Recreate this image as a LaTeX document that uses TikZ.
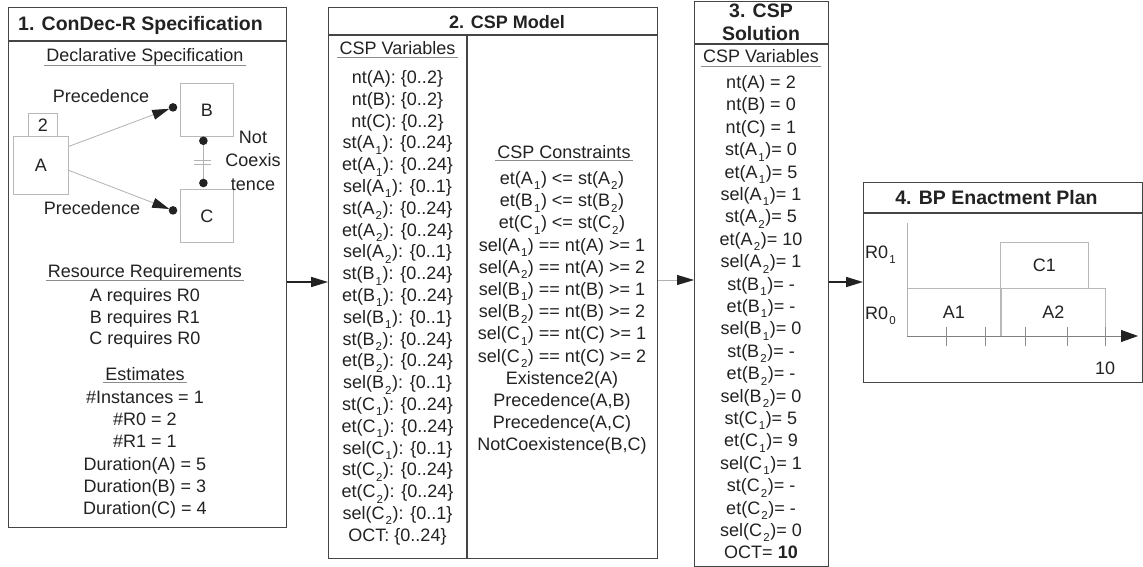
\documentclass[tikz,border=0pt]{standalone}
\usepackage{fontspec}
\setmainfont{Liberation Sans}
\usetikzlibrary{arrows.meta,calc}

\definecolor{ink}{HTML}{222222}
\definecolor{frame}{HTML}{454545}
% lowered index digit, as in st(A_1)
\newcommand{\ix}[1]{\kern0.06em\raisebox{-0.3em}{\fontsize{11.5}{12}\selectfont #1}\kern0.03em}

\begin{document}
\begin{tikzpicture}[x=1pt,y=-1pt,
  txt/.style={font=\fontsize{18}{21}\selectfont, text=ink, inner sep=0pt, anchor=base},
  ttl/.style={font=\fontsize{19.5}{23}\selectfont\bfseries, text=ink, inner sep=0pt, anchor=base},
  hdr/.style={txt, inner xsep=2pt},
  uline/.style={draw=black!45, line width=0.8pt},
  panel/.style={draw=frame, line width=1.2pt, anchor=north west, inner sep=0pt},
  rule/.style={draw=frame, line width=1.2pt},
  sbox/.style={draw=black!28, line width=0.8pt, anchor=north west, inner sep=0pt,
    font=\fontsize{18}{21}\selectfont, text=ink},
  link/.style={draw=black!30, line width=0.8pt},
  tipk/.style={-{Triangle[length=17pt,width=10pt,color=ink]}},
  flow/.style={draw=ink, line width=1.6pt, -{Triangle[length=17pt,width=10pt]}},
  dot/.style={fill=ink},
]
\fill[white] (0,0) rectangle (1143,567);
\useasboundingbox (0,0) rectangle (1143,567);

% ---------------- panel 1: specification ----------------
\node[panel, minimum width=278pt, minimum height=520pt] (p1) at (8,7) {};
\draw[rule] ($(p1.north west)+(0,34)$) -- ($(p1.north east)+(0,34)$);
\node[ttl] (t1) at (140.5,31) {1. ConDec-R Specification};

\node[hdr] (h1) at (145,62) {Declarative Specification};
\draw[uline] ([yshift=-3pt]h1.base west) -- ([yshift=-3pt]h1.base east);

\node[sbox, minimum width=29pt, minimum height=23pt] (n2) at (28,113) {2};
\node[sbox, minimum width=55pt, minimum height=58pt] (A) at (13,136) {A};
\node[sbox, minimum width=53pt, minimum height=53pt] (B) at (180,83) {B};
\node[sbox, minimum width=53pt, minimum height=53pt] (C) at (180,189) {C};

\node[txt] (pr1) at (101,102.5) {Precedence};
\node[txt] (pr2) at (92,214.5) {Precedence};
\node[txt] (nc1) at (253,143.5) {Not};
\node[txt] (nc2) at (253,167) {Coexis};
\node[txt] (nc3) at (253,190.5) {tence};

\coordinate (a1) at ([yshift=19pt]A.east);
\coordinate (a2) at ([yshift=-5pt]A.east);
\coordinate (dB) at ([xshift=-7pt,yshift=2.5pt]B.west);
\coordinate (dC) at ([xshift=-7pt,yshift=5.5pt]C.west);
\coordinate (dB2) at ([xshift=-3.5pt,yshift=-4pt]B.south);
\coordinate (dC2) at ([xshift=-3.5pt,yshift=6pt]C.north);

\draw[link, tipk, shorten >=4pt] (a1) -- (dB);
\draw[link, tipk, shorten >=4pt] (a2) -- (dC);
\draw[link] (dB2) -- (dC2);
\coordinate (mid) at ($(dB2)!0.5!(dC2)$);
\draw[link] ($(mid)+(-9,-2)$) -- ++(17,0);
\draw[link] ($(mid)+(-9,2)$) -- ++(17,0);
\foreach \d in {dB,dC,dB2,dC2} \fill[dot] (\d) circle (4.3pt);

\node[hdr] (h2) at (145,277) {Resource Requirements};
\draw[uline] ([yshift=-3pt]h2.base west) -- ([yshift=-3pt]h2.base east);
\node[txt] (r1) at (145,301.5) {A requires R0};
\node[txt] (r2) at (145,323.5) {B requires R1};
\node[txt] (r3) at (145,344.5) {C requires R0};

\node[hdr] (h3) at (145,380) {Estimates};
\draw[uline] ([yshift=-2.5pt]h3.base west) -- ([yshift=-2.5pt]h3.base east);
\foreach \t [count=\i from 0] in {\#Instances = 1, \#R0 = 2, \#R1 = 1,
    Duration(A) = 5, Duration(B) = 3, Duration(C) = 4}
  \node[txt] (e\i) at (145,{403.5+22.2*\i}) {\t};

% ---------------- panel 2: CSP model ----------------
\node[panel, minimum width=329pt, minimum height=551pt] (p2) at (328,7) {};
\draw[rule] ($(p2.north west)+(0,28)$) -- ($(p2.north east)+(0,28)$);
\draw[rule] ($(p2.north west)+(139,28)$) -- ($(p2.south west)+(139,0)$);
\node[ttl, font=\fontsize{18}{22}\selectfont\bfseries] (t2) at (507,28.5) {2. CSP Model};

\node[hdr] (h4) at (397.5,55) {CSP Variables};
\draw[uline] ([yshift=-2.5pt]h4.base west) -- ([yshift=-2.5pt]h4.base east);
\foreach \t [count=\i from 0] in {
    nt(A): \{0..2\}, nt(B): \{0..2\}, nt(C): \{0..2\},
    st(A\ix{1}): \{0..24\}, et(A\ix{1}): \{0..24\}, sel(A\ix{1}): \{0..1\},
    st(A\ix{2}): \{0..24\}, et(A\ix{2}): \{0..24\}, sel(A\ix{2}): \{0..1\},
    st(B\ix{1}): \{0..24\}, et(B\ix{1}): \{0..24\}, sel(B\ix{1}): \{0..1\},
    st(B\ix{2}): \{0..24\}, et(B\ix{2}): \{0..24\}, sel(B\ix{2}): \{0..1\},
    st(C\ix{1}): \{0..24\}, et(C\ix{1}): \{0..24\}, sel(C\ix{1}): \{0..1\},
    st(C\ix{2}): \{0..24\}, et(C\ix{2}): \{0..24\}, sel(C\ix{2}): \{0..1\},
    OCT: \{0..24\}}
  \node[txt] (v\i) at (397.5,{83.5+21.8*\i}) {\t};

\node[hdr] (h5) at (564,158) {CSP Constraints};
\draw[uline] ([yshift=-2.5pt]h5.base west) -- ([yshift=-2.5pt]h5.base east);
\foreach \t [count=\i from 0] in {
    et(A\ix{1}) <= st(A\ix{2}), et(B\ix{1}) <= st(B\ix{2}), et(C\ix{1}) <= st(C\ix{2}),
    sel(A\ix{1}) == nt(A) >= 1, sel(A\ix{2}) == nt(A) >= 2,
    sel(B\ix{1}) == nt(B) >= 1, sel(B\ix{2}) == nt(B) >= 2,
    sel(C\ix{1}) == nt(C) >= 1, sel(C\ix{2}) == nt(C) >= 2,
    Existence2(A), {Precedence(A,B)}, {Precedence(A,C)}, {NotCoexistence(B,C)}}
  \node[txt] (k\i) at (562,{184.5+22.2*\i}) {\t};

% ---------------- panel 3: CSP solution ----------------
\node[panel, minimum width=134pt, minimum height=565pt] (p3) at (694,1) {};
\draw[rule] ($(p3.north west)+(0,43)$) -- ($(p3.north east)+(0,43)$);
\node[ttl] (t3a) at (761,18) {3. CSP};
\node[ttl] (t3b) at (761,41) {Solution};
\node[hdr] (h6) at (761,63) {CSP Variables};
\draw[uline] ([yshift=-3pt]h6.base west) -- ([yshift=-3pt]h6.base east);
\foreach \t [count=\i from 0] in {
    nt(A) = 2, nt(B) = 0, nt(C) = 1,
    st(A\ix{1})= 0, et(A\ix{1})= 5, sel(A\ix{1})= 1,
    st(A\ix{2})= 5, et(A\ix{2})= 10, sel(A\ix{2})= 1,
    st(B\ix{1})= -, et(B\ix{1})= -, sel(B\ix{1})= 0,
    st(B\ix{2})= -, et(B\ix{2})= -, sel(B\ix{2})= 0,
    st(C\ix{1})= 5, et(C\ix{1})= 9, sel(C\ix{1})= 1,
    st(C\ix{2})= -, et(C\ix{2})= -, sel(C\ix{2})= 0,
    OCT= \textbf{10}}
  \node[txt] (s\i) at (761,{88.5+22.4*\i}) {\t};

% ---------------- panel 4: enactment plan ----------------
\node[panel, minimum width=279pt, minimum height=200pt] (p4) at (863,182) {};
\draw[rule] ($(p4.north west)+(0,31)$) -- ($(p4.north east)+(0,31)$);
\node[ttl] (t4) at (996.5,204) {4. BP Enactment Plan};

\coordinate (org) at (907,336);
\coordinate (ytop) at (907,223);
\coordinate (xend) at (1138,336);
\node[sbox, minimum width=93pt, minimum height=48pt] (bA1) at (907,288) {A1};
\node[sbox, minimum width=104pt, minimum height=48pt] (bA2) at (1001,288) {A2};
\node[sbox, minimum width=88pt, minimum height=46pt] (bC1) at (1000,242) {C1};
\draw[link] (ytop) -- (org);
\draw[draw=black!50, line width=0.8pt, -{Triangle[length=17pt,width=12pt,color=ink]}] (org) -- (xend);
\foreach \x in {946,985,1025,1067,1105}
  \draw[draw=black!45, line width=0.7pt] (\x,327) -- (\x,346);
\node[txt, anchor=base west] (R1) at (865,258) {R0\ix{1}};
\node[txt, anchor=base west] (R0) at (865,319) {R0\ix{0}};
\node[txt] (ten) at (1105,374.5) {10};

% ---------------- flow between panels ----------------
\coordinate (lv1) at (0,282);
\coordinate (lv2) at (0,280);
\draw[flow] (p1.east |- lv1) -- (p2.west |- lv1);
\draw[link, tipk] (p2.east |- lv2) -- (p3.west |- lv2);
\draw[flow] (p3.east |- lv1) -- (p4.west |- lv1);
\end{tikzpicture}
\end{document}
